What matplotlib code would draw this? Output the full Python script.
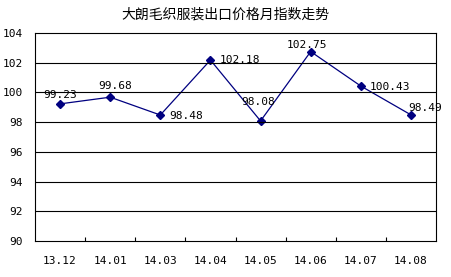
import matplotlib
matplotlib.use("Agg")
import matplotlib.pyplot as plt
import numpy as np

plt.rcParams['font.family'] = ['Noto Sans CJK SC', 'DejaVu Sans']

title = "大朗毛织服装出口价格月指数走势"
categories = ["13.12", "14.01", "14.03", "14.04", "14.05", "14.06", "14.07", "14.08"]
values = [99.23, 99.68, 98.48, 102.18, 98.08, 102.75, 100.43, 98.49]
label_offsets = [(0, 9), (5, 11), (26, -1), (30, 0), (-2, 19), (-4, 7), (29, -1), (14, 7)]

num_font = dict(family='DejaVu Sans Mono', size=8)

fig = plt.figure(figsize=(4.51, 2.77), dpi=100)
ax = fig.add_axes([35/451, 1-241/277, (436-35)/451, (241-33)/277])

x = np.arange(len(categories))
ax.plot(x, values, color='#000080', lw=0.9, marker='D', ms=4, mfc='#000080', mec='#000080')
for xi, v, off in zip(x, values, label_offsets):
    ax.annotate(f"{v:.2f}", (xi, v), xytext=off, textcoords='offset pixels',
                ha='center', va='center', color='black', **num_font)

ax.set_xlim(-0.5, len(categories) - 0.5)
ax.set_ylim(90, 104)
ax.set_yticks(np.arange(90, 105, 2))
ax.set_yticklabels([str(v) for v in range(90, 105, 2)], **num_font)
ax.set_xticks(x)
ax.set_xticklabels(categories, **num_font)
ax.set_xticks(np.arange(0.5, len(categories) - 1, 1), minor=True)
ax.tick_params(axis='x', which='major', length=0, pad=10.5)
ax.tick_params(axis='x', which='minor', direction='in', length=3, width=0.8)
ax.tick_params(axis='y', length=0, pad=8.5)
for yv in range(92, 104, 2):
    ax.axhline(yv, color='black', lw=0.8)
for s in ax.spines.values():
    s.set_linewidth(0.8)

fig.text(225/451, 1-15/277, title, ha='center', va='center', fontsize=10)

fig.savefig("out.png", dpi=100)
